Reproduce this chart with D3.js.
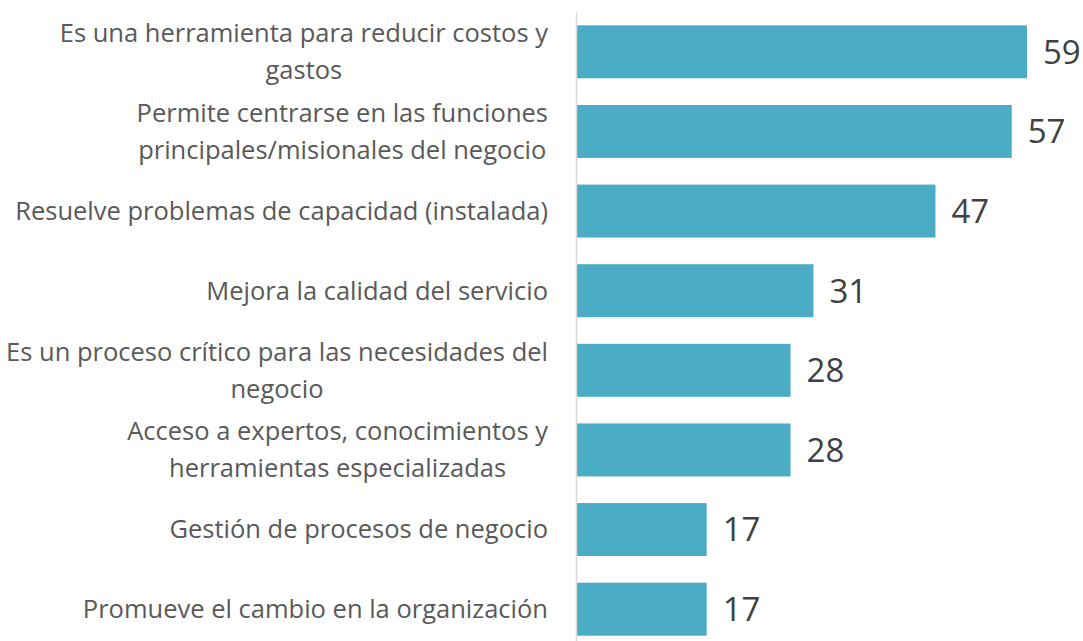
<!DOCTYPE html>
<html>
<head>
<meta charset="utf-8">
<script src="https://cdn.jsdelivr.net/npm/d3@7"></script>
<style>
  html, body { margin: 0; padding: 0; background: #fff; }
  svg { display: block; font-family: "Open Sans", sans-serif; }
</style>
</head>
<body>
<div id="chart"></div>
<script>
// Data
const categories = [
    "Es una herramienta para reducir costos y gastos",
    "Permite centrarse en las funciones principales/misionales del negocio",
    "Resuelve problemas de capacidad (instalada)",
    "Mejora la calidad del servicio",
    "Es un proceso crítico para las necesidades del negocio",
    "Acceso a expertos, conocimientos y herramientas especializadas",
    "Gestión de procesos de negocio",
    "Promueve el cambio en la organización"
];
const values = [59, 57, 47, 31, 28, 28, 17, 17];

const width = 1083, height = 641;
const axisX = 577;

const svg = d3.select("#chart")
    .append("svg")
    .attr("width", width)
    .attr("height", height);

// Scales
const y = d3.scaleBand()
    .domain(categories)
    .range([12, 649])
    .paddingInner(0.335)
    .paddingOuter(0.1675);

const x = d3.scaleLinear()
    .domain([0, 59])
    .range([axisX, 1027]);

// Bars
svg.selectAll(".bar")
    .data(values)
    .enter()
    .append("rect")
        .attr("class", "bar")
        .attr("x", x(0))
        .attr("y", (d, i) => y(categories[i]))
        .attr("width", d => x(d) - x(0))
        .attr("height", y.bandwidth())
        .attr("fill", "#4BACC6");

// Vertical axis line (no ticks)
const axis = svg.append("g")
    .attr("transform", `translate(${axisX - 1},0)`)
    .call(d3.axisLeft(y).tickSize(0).tickFormat(""));
axis.select(".domain")
    .attr("stroke", "#d9d9d9")
    .attr("stroke-width", 1.5);

// Category labels: block right-aligned to the axis, wrapped lines centred within it
const labelRight = 548;
const maxLabelWidth = 556;
const lineHeight = 37;
const labels = svg.selectAll(".cat")
    .data(categories)
    .enter()
    .append("text")
        .attr("class", "cat")
        .attr("text-anchor", "middle")
        .attr("fill", "#595959")
        .style("font-size", "25.5px");

labels.each(function(d) {
    const t = d3.select(this);
    const words = d.split(" ");
    const lines = [];
    let line = [];
    const probe = t.append("tspan");
    const measure = s => { probe.text(s); return probe.node().getComputedTextLength(); };
    words.forEach(w => {
        line.push(w);
        if (measure(line.join(" ")) > maxLabelWidth && line.length > 1) {
            line.pop();
            lines.push(line.join(" "));
            line = [w];
        }
    });
    lines.push(line.join(" "));
    const blockWidth = d3.max(lines, measure);
    probe.remove();

    const cx = labelRight - blockWidth / 2;
    const cy = y(d) + y.bandwidth() / 2;
    const startY = cy - (lines.length - 1) * lineHeight / 2;
    lines.forEach((l, i) => {
        t.append("tspan")
            .attr("x", cx)
            .attr("y", startY + i * lineHeight)
            .attr("dy", "0.35em")
            .text(l);
    });
});

// Value labels
svg.selectAll(".val")
    .data(values)
    .enter()
    .append("text")
        .attr("class", "val")
        .attr("x", d => x(d) + 16)
        .attr("y", (d, i) => y(categories[i]) + y.bandwidth() / 2)
        .attr("dy", "0.36em")
        .attr("fill", "#404040")
        .style("font-size", "33px")
        .text(d => d);
</script>
</body>
</html>
